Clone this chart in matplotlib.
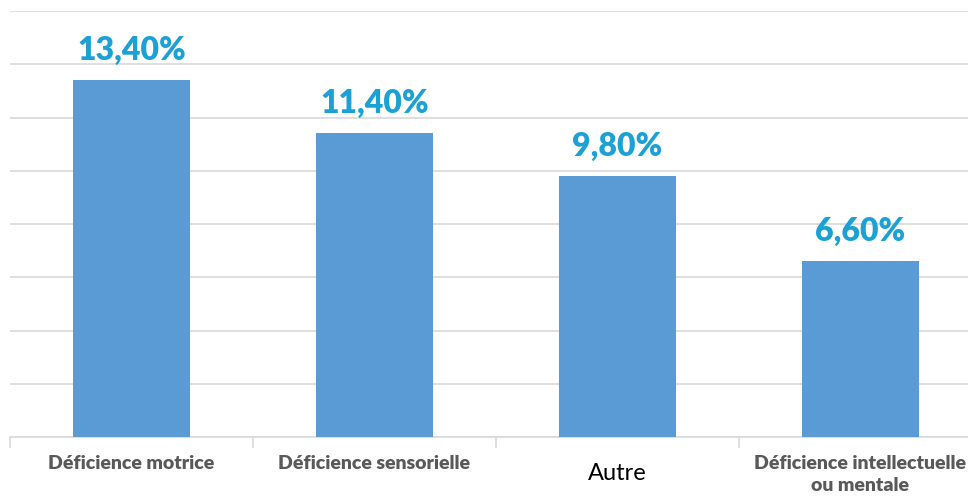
import numpy as np
import matplotlib.pyplot as plt
from matplotlib.ticker import FixedLocator

CATEGORIES = ['Déficience motrice', 'Déficience sensorielle', 'Autre',
              'Déficience intellectuelle\nou mentale']
VALUES = [13.4, 11.4, 9.8, 6.6]
VALUE_LABELS = ['13,40%', '11,40%', '9,80%', '6,60%']

BAR_COLOR = '#5B9BD5'
LABEL_COLOR = '#1BA1D6'
GRID_COLOR = '#D9D9D9'

plt.rcParams['font.family'] = ['Lato', 'DejaVu Sans']

fig = plt.figure(figsize=(9.68, 4.99), dpi=100)
ax = fig.add_axes([10 / 968, 1 - 437 / 499, 958 / 968, 426 / 499])

x = np.arange(len(CATEGORIES))
bars = ax.bar(x, VALUES, width=0.48, color=BAR_COLOR, zorder=3)

for b, lab in zip(bars, VALUE_LABELS):
    ax.annotate(lab, (b.get_x() + b.get_width() / 2, b.get_height()),
                xytext=(0, 11), textcoords='offset points',
                ha='center', va='bottom', fontsize=23, fontweight='heavy',
                color=LABEL_COLOR)

ax.set_ylim(0, 16)
ax.set_xlim(-0.5, 3.5 - 14 / 243)
ax.set_yticks(np.arange(0, 17, 2))
ax.tick_params(axis='y', left=False, labelleft=False)
ax.yaxis.grid(True, color=GRID_COLOR, linewidth=1.2, zorder=0)

for side in ['top', 'right', 'left']:
    ax.spines[side].set_visible(False)
ax.spines['bottom'].set_color(GRID_COLOR)
ax.spines['bottom'].set_linewidth(1.2)

ax.set_xticks(x)
ax.set_xticklabels([])
ax.tick_params(axis='x', which='major', length=0)
ax.xaxis.set_minor_locator(FixedLocator(np.arange(-0.5, 4, 1)))
ax.tick_params(axis='x', which='minor', length=8, color=GRID_COLOR, width=1.2)

trans = ax.get_xaxis_transform()
for i, cat in enumerate(CATEGORIES):
    if cat == 'Autre':
        ax.text(i, -0.085, cat, transform=trans, ha='center', va='center',
                fontsize=17, color='black')
    else:
        ax.text(i, -0.043, cat, transform=trans, ha='center', va='top',
                fontsize=14, fontweight='heavy', color='#595959',
                linespacing=1.3)

fig.savefig('out.png', dpi=100)
